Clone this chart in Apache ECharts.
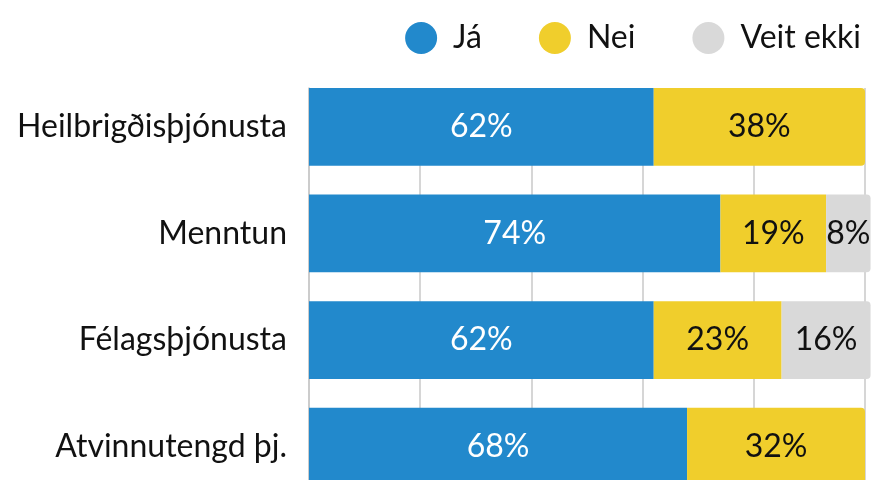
<!DOCTYPE html>
<html>
<head>
<meta charset="utf-8">
<script src="https://cdn.jsdelivr.net/npm/echarts@6/dist/echarts.min.js"></script>
<style>
  html, body { margin: 0; padding: 0; overflow: hidden; background: #fff; }
  #chart { width: 874px; height: 500px; }
</style>
</head>
<body>
<div id="chart"></div>
<script>
// data
const categories = ["Heilbrigðisþjónusta", "Menntun", "Félagsþjónusta", "Atvinnutengd þj."];
const seriesNames = ["Já", "Nei", "Veit ekki"];
const ja = [62, 74, 62, 68];
const nei = [38, 19, 23, 32];
const veitEkki = [0, 8, 16, 0];
const xTicks = [0, 20, 40, 60, 80, 100];

const colors = ["#2289cc", "#f0ce2c", "#d9d9d9"];
const labelColors = ["#ffffff", "#111111", "#111111"];
const FONT = "Lato";
const FS = 32;

const chart = echarts.init(document.getElementById("chart"));
const all = [ja, nei, veitEkki];

// last non-empty segment of each row gets rounded right corners
function lastIndex(row) {
  let last = 0;
  all.forEach((s, k) => { if (s[row] > 0) last = k; });
  return last;
}

const series = all.map((vals, k) => ({
  name: seriesNames[k],
  type: "bar",
  stack: "total",
  xAxisIndex: 0,
  yAxisIndex: 0,
  barCategoryGap: "27%",
  clip: false,
  z: 3,
  data: vals.map((v, row) => ({
    value: v,
    itemStyle: { borderRadius: lastIndex(row) === k ? [0, 4, 4, 0] : 0 },
  })),
  itemStyle: { color: colors[k] },
  label: {
    show: true,
    position: "inside",
    fontFamily: FONT,
    fontSize: FS,
    color: labelColors[k],
    formatter: (p) => (p.value > 0 ? p.value + "%" : ""),
  },
  emphasis: { disabled: true },
}));

chart.setOption({
  animation: false,
  color: colors,
  legend: {
    data: seriesNames,
    right: 8,
    top: 17,
    icon: "circle",
    itemWidth: 32,
    itemHeight: 32,
    itemGap: 57,
    textStyle: { fontFamily: FONT, fontSize: FS, color: "#111", padding: [0, 0, 0, 11] },
  },
  grid: [
    { left: 309, right: 9, top: 73.5, bottom: 0 },
    // second grid only carries the grid lines, starting at the first bar
    { left: 309, right: 9, top: 88, bottom: 0 },
  ],
  xAxis: [
    {
      gridIndex: 0, type: "value", min: xTicks[0], max: xTicks[xTicks.length - 1], interval: 20,
      axisLabel: { show: false }, axisLine: { show: false }, axisTick: { show: false },
      splitLine: { show: false },
    },
    {
      gridIndex: 1, type: "value", min: xTicks[0], max: xTicks[xTicks.length - 1], interval: 20,
      axisLabel: { show: false }, axisLine: { show: false }, axisTick: { show: false },
      splitLine: { show: true, lineStyle: { color: "#c8c8c8", width: 1.5 } },
    },
  ],
  yAxis: [
    {
      gridIndex: 0, type: "category", data: categories, inverse: true,
      axisLine: { show: false }, axisTick: { show: false },
      axisLabel: { margin: 22, fontFamily: FONT, fontSize: FS, color: "#111" },
    },
    {
      gridIndex: 1, type: "category", data: categories, inverse: true,
      axisLabel: { show: false }, axisTick: { show: false },
      axisLine: { show: true, lineStyle: { color: "#c8c8c8", width: 1.5 } },
    },
  ],
  series: series,
});
</script>
</body>
</html>
